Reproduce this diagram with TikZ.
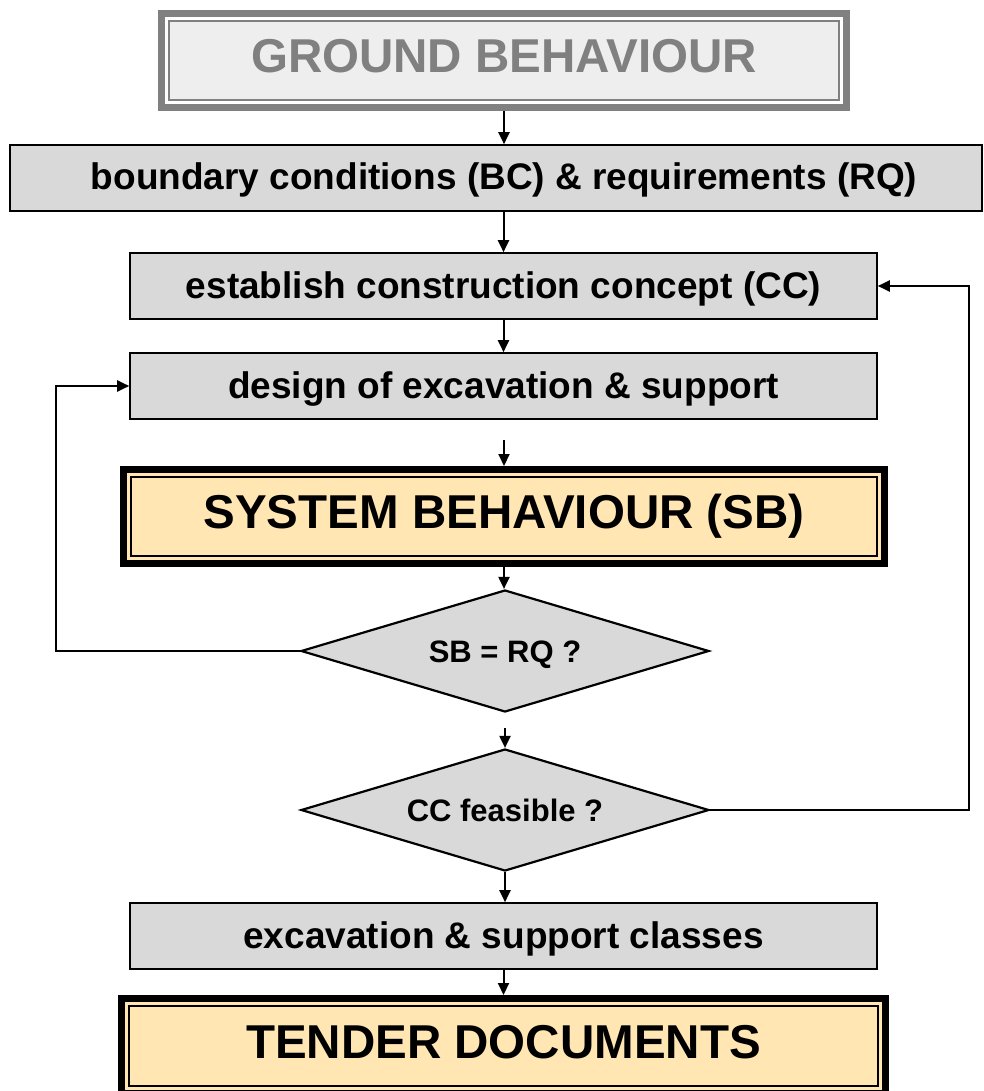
\documentclass[tikz,border=0pt]{standalone}
\usepackage{fontspec}
\setmainfont{Liberation Sans}
\usetikzlibrary{arrows.meta,shapes.geometric,backgrounds}
\definecolor{boxgray}{HTML}{D9D9D9}
\definecolor{palegray}{HTML}{EEEEEE}
\definecolor{framegray}{HTML}{808080}
\definecolor{beige}{HTML}{FFE6B3}

\begin{document}
\begin{tikzpicture}[x=1pt,y=-1pt,
  plainbox/.style={draw=black, line width=1.6pt, fill=boxgray, minimum height=66pt,
    inner sep=0pt, text height=27pt, text depth=3pt,
    font=\fontsize{37}{40}\selectfont\bfseries},
  framed/.style={draw=#1, line width=2pt, minimum height=79pt, inner sep=0pt,
    outer sep=11pt, text height=34.7pt, text depth=10pt,
    font=\fontsize{47.5}{50}\selectfont\bfseries},
  decision/.style={shape=diamond, draw=black, line width=2.2pt, fill=boxgray,
    minimum width=408pt, minimum height=122pt, aspect=3.34, inner sep=0pt,
    text height=22.6pt, text depth=0pt,
    font=\fontsize{31}{34}\selectfont\bfseries},
  arr/.style={line width=2pt, -{Triangle[length=12pt,width=11pt]}},
  band/.style={line width=7pt, draw=#1}
]
\useasboundingbox (0,0) rectangle (984,1091);

% main flow
\node[framed=framegray, fill=palegray, text=framegray, minimum width=670pt] (gb) at (504,60.5) {GROUND BEHAVIOUR};
\node[plainbox, minimum width=972pt] (bc) at (496,178) {\hspace*{16pt}boundary conditions (BC) \& requirements (RQ)};
\node[plainbox, minimum width=747pt] (cc) at (503.5,286) {establish construction concept (CC)};
\node[plainbox, minimum width=747pt] (des) at (503.5,386) {design of excavation \& support};
\node[framed=black, fill=beige, minimum width=746pt] (sb) at (504,516.5) {SYSTEM BEHAVIOUR (SB)};
\node[decision] (d1) at (505,651) {SB = RQ ?};
\node[decision] (d2) at (505,810) {CC feasible ?};
\node[plainbox, minimum width=747pt] (ex) at (503.5,936) {excavation \& support classes};
\node[framed=black, fill=beige, minimum width=749pt, minimum height=80pt] (td) at (503.5,1046) {TENDER DOCUMENTS};

% heavy outer frames of the highlighted boxes
\begin{scope}[on background layer]
  \draw[band=framegray, fill=white] ([shift={(3.5,-3.5)}]gb.south west) rectangle ([shift={(-3.5,3.5)}]gb.north east);
  \draw[band=black, fill=beige] ([shift={(3.5,-3.5)}]sb.south west) rectangle ([shift={(-3.5,3.5)}]sb.north east);
  \draw[band=black, fill=beige] ([shift={(3.5,-3.5)}]td.south west) rectangle ([shift={(-3.5,3.5)}]td.north east);
\end{scope}

% connectors
\coordinate (g1) at (504,440);
\coordinate (g2) at (505,728);
\draw[arr] (gb.south) -- (gb.south |- bc.north);
\draw[arr] (cc.north |- bc.south) -- (cc.north);
\draw[arr] (cc.south) -- (des.north);
\draw[arr] (g1) -- (g1 |- sb.north);
\draw[arr] (sb.south) -- (sb.south |- d1.north);
\draw[arr] (g2) -- (d2.north);
\draw[arr] (d2.south) -- (d2.south |- ex.north);
\draw[arr] (ex.south) -- (ex.south |- td.north);

% feedback loops
\draw[arr] (d1.west) -- ++(-244,0) |- (des.west);
\draw[arr] (d2.east) -- ++(259,0) |- (cc.east);
\end{tikzpicture}
\end{document}
